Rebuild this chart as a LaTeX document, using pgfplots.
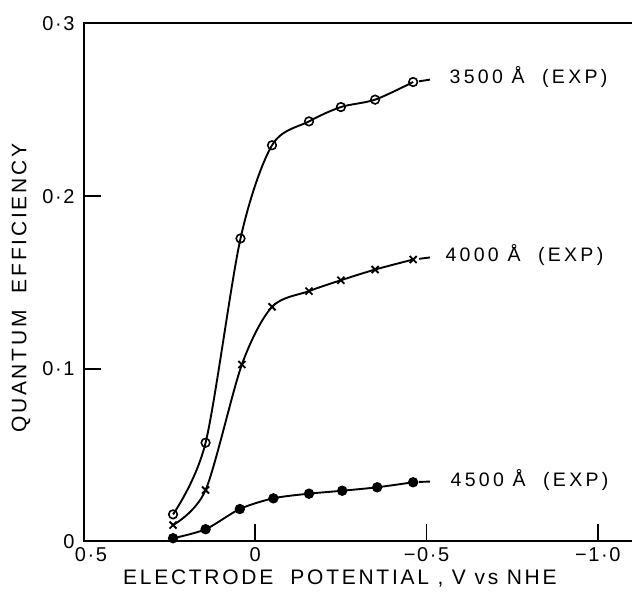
\documentclass[border=0pt]{standalone}
\usepackage{fontspec}
\setmainfont{Liberation Sans}
\newfontfamily\spaced[LetterSpace=13]{Liberation Sans}
\newfontfamily\lbl[LetterSpace=17]{Liberation Sans}
\newfontfamily\tck[LetterSpace=8]{Liberation Sans}
\usepackage{pgfplots}
\pgfplotsset{compat=1.18}

\begin{document}
\begin{tikzpicture}
\begin{axis}[at={(0pt,0pt)}, anchor=south west, scale only axis,
  width=548pt, height=518pt,
  x dir=reverse, xmin=-1.1, xmax=0.5, ymin=0, ymax=0.3,
  axis line style={draw=none},
  xtick={0.5,0,-0.5,-1}, xticklabels={{\kern14pt 0·5},0,−0·5,−1·0},
  ytick={0,0.1,0.2,0.3}, yticklabels={0,0·1,0·2,0·3},
  xtick pos=bottom, ytick pos=left,
  tick align=inside, major tick length=17pt,
  tick style={line width=1.6pt, black},
  ticklabel style={font=\tck\fontsize{20}{22}\selectfont},
  xticklabel style={yshift=-3pt},
  yticklabel style={xshift=-6pt},
  xlabel={ELECTRODE\ \ POTENTIAL , V vs NHE},
  xlabel style={at={(axis description cs:0.467,0)}, anchor=center, yshift=-37pt, font=\spaced\fontsize{21}{23}\selectfont},
  ylabel={QUANTUM\ \ EFFICIENCY},
  ylabel style={at={(axis description cs:0,0.489)}, anchor=center, yshift=63pt, font=\spaced\fontsize{21}{23}\selectfont},
  clip=false]

% axis frame: left, bottom and top only
\draw[line width=2pt] (axis description cs:1,1) -- (axis description cs:0,1)
  -- (axis description cs:0,0) -- (axis description cs:1,0);

% 3500 A
\addplot[black, line width=1.9pt, smooth, mark=o, mark size=4.3pt,
  mark options={solid, fill=white, line width=1.6pt}] coordinates {
  (0.24,0.0157) (0.145,0.0572) (0.043,0.1755) (-0.049,0.2295)
  (-0.157,0.2433) (-0.250,0.2516) (-0.350,0.2559) (-0.461,0.2661)};
\addplot[black, line width=1.9pt, no marks] coordinates {(-0.478,0.2665) (-0.51,0.2675)};

% 4000 A
\addplot[black, line width=1.9pt, smooth, mark=x, mark size=5pt,
  mark options={solid, line width=1.9pt}] coordinates {
  (0.24,0.0095) (0.145,0.0298) (0.039,0.1025) (-0.049,0.1359)
  (-0.157,0.1450) (-0.250,0.1513) (-0.350,0.1575) (-0.461,0.1633)};
\addplot[black, line width=1.9pt, no marks] coordinates {(-0.478,0.1637) (-0.51,0.1645)};

% 4500 A
\addplot[black, line width=1.9pt, smooth, mark=*, mark size=4.2pt,
  mark options={solid}] coordinates {
  (0.24,0.0019) (0.145,0.0071) (0.045,0.0188) (-0.053,0.0250)
  (-0.157,0.0277) (-0.254,0.0294) (-0.356,0.0314) (-0.461,0.0343)};
\addplot[black, line width=1.9pt, no marks] coordinates {(-0.478,0.0345) (-0.51,0.0347)};

\node[anchor=west, inner sep=0pt, font=\lbl\fontsize{19.5}{21}\selectfont] at (axis cs:-0.567,0.2688) {3500 Å\ \ (EXP)};
\node[anchor=west, inner sep=0pt, font=\lbl\fontsize{19.5}{21}\selectfont] at (axis cs:-0.555,0.1657) {4000 Å\ \ (EXP)};
\node[anchor=west, inner sep=0pt, font=\lbl\fontsize{19.5}{21}\selectfont] at (axis cs:-0.570,0.0356) {4500 Å\ \ (EXP)};
\end{axis}
\pgfresetboundingbox
\path[use as bounding box] (-84pt,-51.5pt) rectangle (550pt,541.5pt);
\end{tikzpicture}
\end{document}
